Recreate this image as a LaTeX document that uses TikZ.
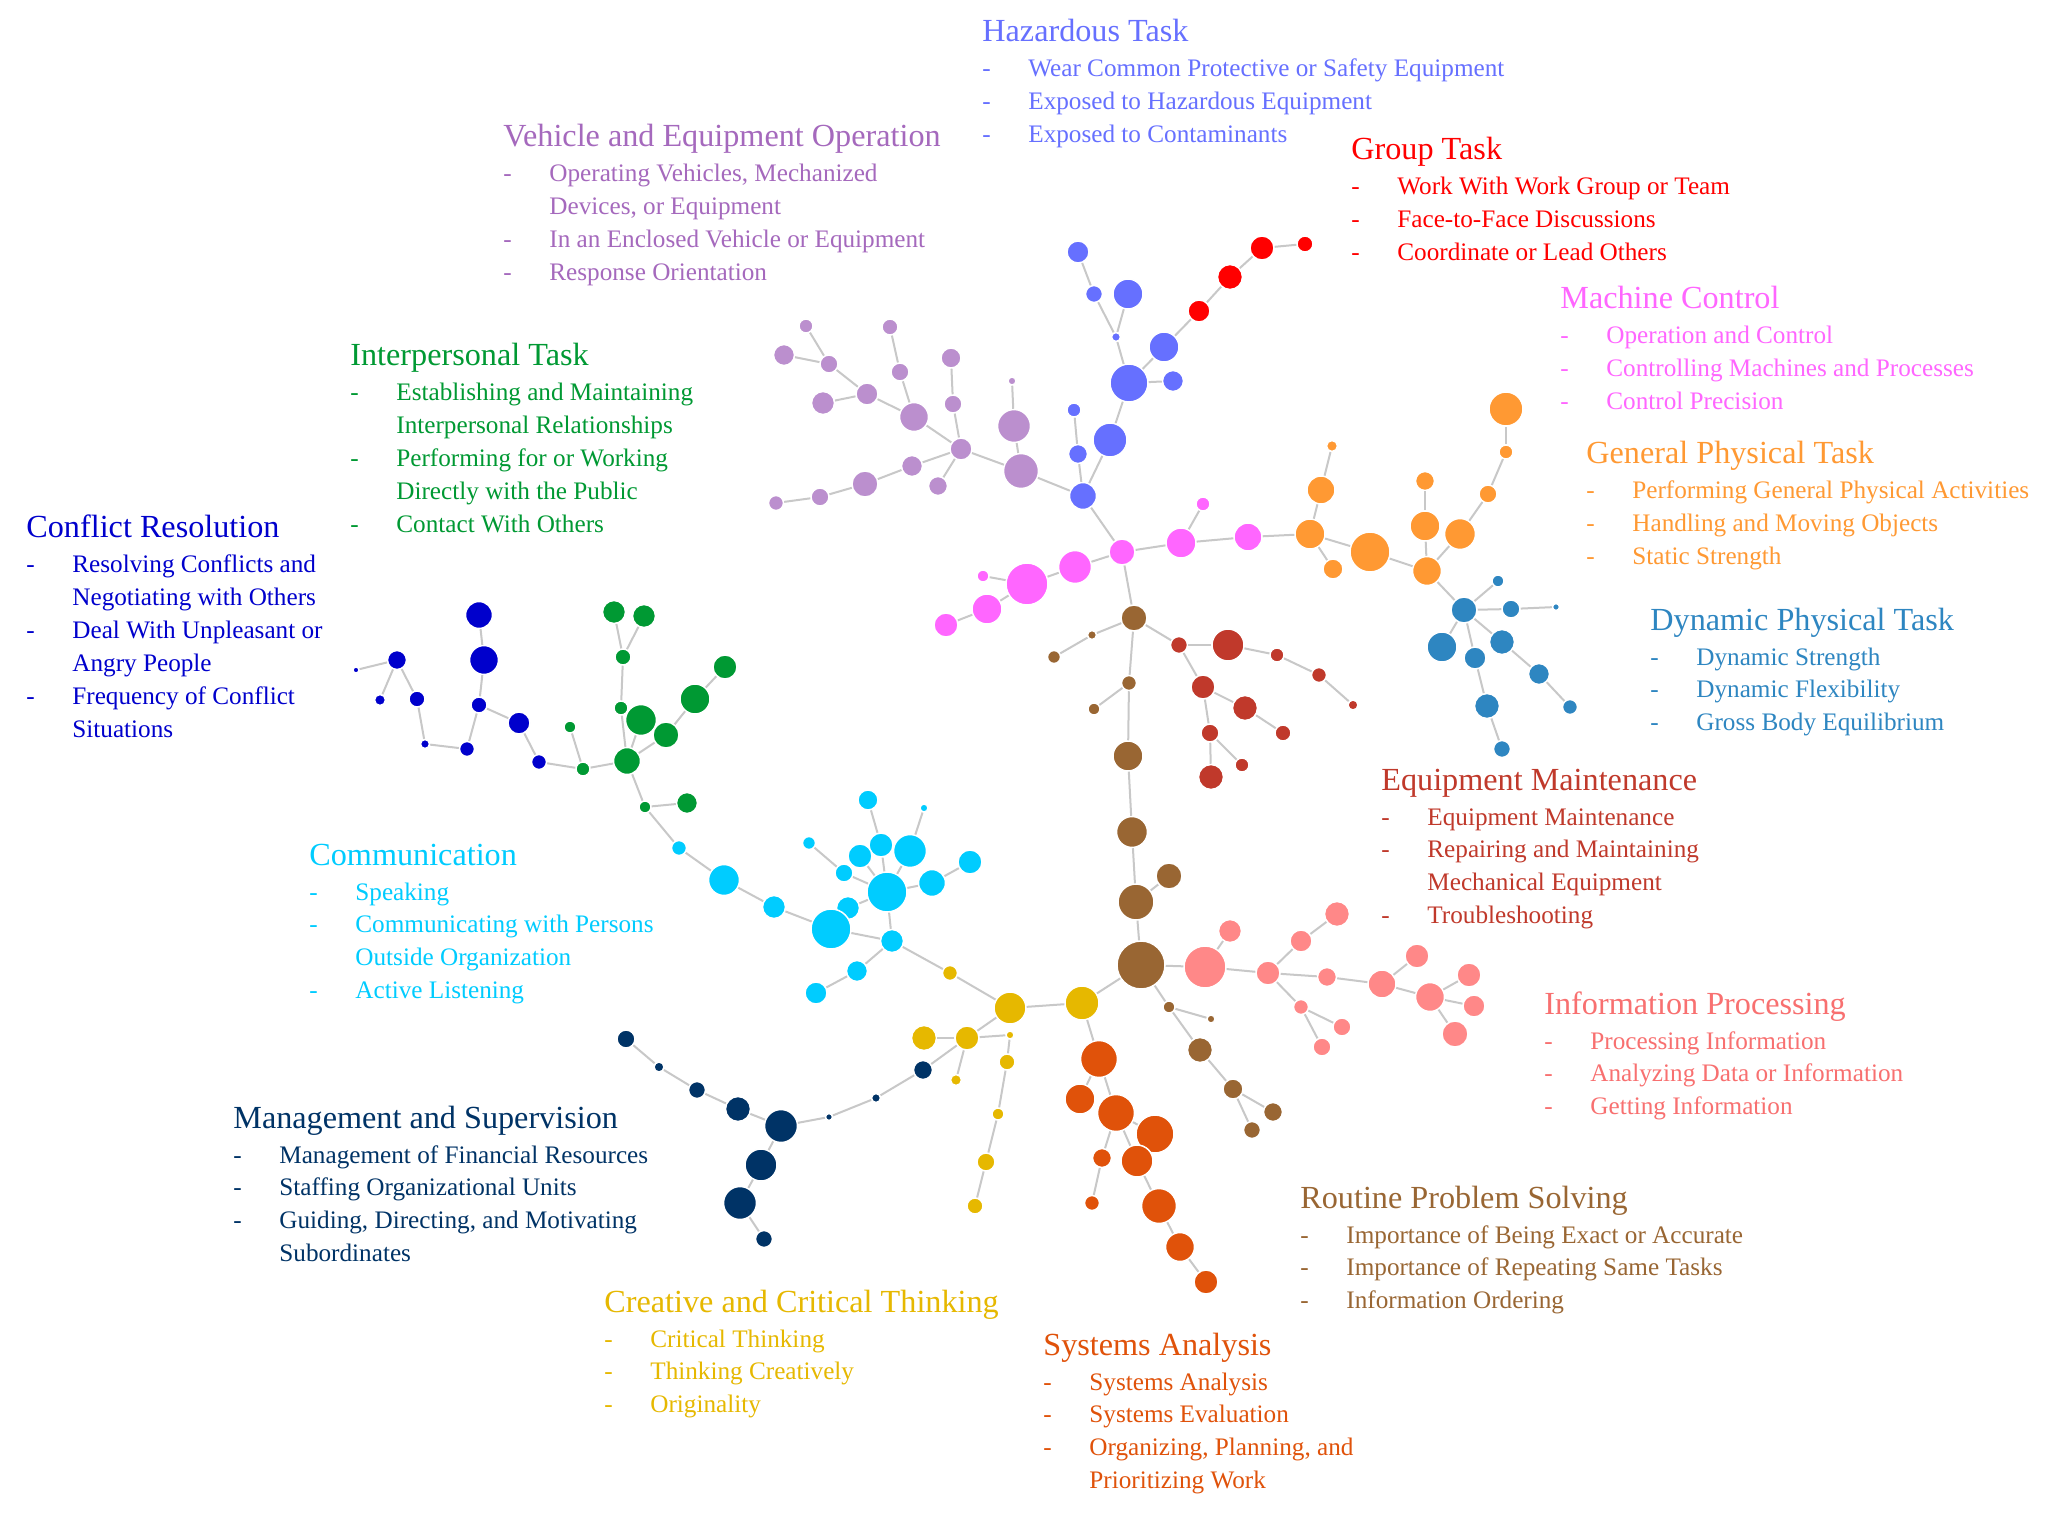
\documentclass[tikz,border=0pt]{standalone}
\usepackage{fontspec}
\setmainfont{Liberation Serif}
\definecolor{linkc}{RGB}{200,200,200}
\definecolor{hazardc}{RGB}{102,112,255}
\definecolor{vehiclec}{RGB}{187,143,206}
\definecolor{vehiclet}{RGB}{165,105,189}
\definecolor{groupc}{RGB}{255,0,0}
\definecolor{machinec}{RGB}{255,102,255}
\definecolor{genphysc}{RGB}{255,153,51}
\definecolor{dynphysc}{RGB}{46,134,193}
\definecolor{equipc}{RGB}{192,57,43}
\definecolor{infoc}{RGB}{255,136,136}
\definecolor{infot}{RGB}{248,112,112}
\definecolor{routinec}{RGB}{153,102,51}
\definecolor{systemsc}{RGB}{224,82,10}
\definecolor{creativec}{RGB}{230,184,0}
\definecolor{managec}{RGB}{0,51,102}
\definecolor{communc}{RGB}{0,204,255}
\definecolor{conflictc}{RGB}{0,0,204}
\definecolor{interpc}{RGB}{0,153,51}
\newcommand{\itemlist}[1]{\begin{tabular}[t]{@{}p{23pt}@{}l@{}}#1\end{tabular}}

\begin{document}
\begin{tikzpicture}[x=0.5pt,y=-0.5pt,
  dot/.style={circle,draw=white,line width=0.75pt,inner sep=0pt},
  sz/.style={minimum size=#1pt},
  every edge/.style={draw=linkc,line width=1pt},
  hzd/.style={dot,fill=hazardc}, veh/.style={dot,fill=vehiclec},
  grp/.style={dot,fill=groupc}, mch/.style={dot,fill=machinec},
  gph/.style={dot,fill=genphysc}, dph/.style={dot,fill=dynphysc},
  eqm/.style={dot,fill=equipc}, inf/.style={dot,fill=infoc},
  rps/.style={dot,fill=routinec}, sys/.style={dot,fill=systemsc},
  crt/.style={dot,fill=creativec}, mgt/.style={dot,fill=managec},
  com/.style={dot,fill=communc}, cfl/.style={dot,fill=conflictc},
  ipr/.style={dot,fill=interpc},
  ttl/.style={anchor=base west,inner sep=0pt,font=\fontsize{16.1}{19}\selectfont},
  lst/.style={anchor=base west,inner sep=0pt,yshift=-17.5pt,font=\fontsize{12.6}{16.4}\selectfont}]
\fill[white] (0,0) rectangle (2046,1519);
\useasboundingbox (0,0) rectangle (2046,1519);

% vehicle and equipment operation
\node[veh,sz=7] (v1) at (806,326) {};
\node[veh,sz=10.5] (v2) at (784,355) {};
\node[veh,sz=9] (v3) at (829,364) {};
\node[veh,sz=11] (v4) at (867,394) {};
\node[veh,sz=11.5] (v5) at (823,403) {};
\node[veh,sz=8] (v6) at (890,327) {};
\node[veh,sz=9] (v7) at (900,372) {};
\node[veh,sz=14.5] (v8) at (914,417) {};
\node[veh,sz=10] (v9) at (951,358) {};
\node[veh,sz=9] (v10) at (953,404) {};
\node[veh,sz=11] (v11) at (961,449) {};
\node[veh,sz=4] (v12) at (1012,381) {};
\node[veh,sz=16.5] (v13) at (1014,426) {};
\node[veh,sz=17.5] (v14) at (1021,471) {};
\node[veh,sz=10.5] (v15) at (912,466) {};
\node[veh,sz=9.5] (v16) at (938,486) {};
\node[veh,sz=13] (v17) at (865,484) {};
\node[veh,sz=9] (v18) at (820,497) {};
\node[veh,sz=7.5] (v19) at (776,503) {};

% hazardous task
\node[hzd,sz=11] (h1) at (1078,252) {};
\node[hzd,sz=8.5] (h2) at (1094,294) {};
\node[hzd,sz=15] (h3) at (1128,294) {};
\node[hzd,sz=4.5] (h4) at (1116,337) {};
\node[hzd,sz=19] (h5) at (1129,383) {};
\node[hzd,sz=10.5] (h6) at (1173,381) {};
\node[hzd,sz=15] (h7) at (1164,347) {};
\node[hzd,sz=7] (h8) at (1074,410) {};
\node[hzd,sz=9.5] (h9) at (1078,454) {};
\node[hzd,sz=17] (h10) at (1110,440) {};
\node[hzd,sz=13.5] (h11) at (1083,496) {};

% group task
\node[grp,sz=11] (g1) at (1199,311) {};
\node[grp,sz=12.5] (g2) at (1230,277) {};
\node[grp,sz=12] (g3) at (1262,248) {};
\node[grp,sz=8] (g4) at (1305,244) {};

% machine control
\node[mch,sz=13] (m1) at (1122,552) {};
\node[mch,sz=15] (m2) at (1181,543) {};
\node[mch,sz=7] (m3) at (1203,504) {};
\node[mch,sz=14] (m4) at (1248,537) {};
\node[mch,sz=16.5] (m5) at (1075,567) {};
\node[mch,sz=21] (m6) at (1027,584) {};
\node[mch,sz=6] (m7) at (983,576) {};
\node[mch,sz=15] (m8) at (987,609) {};
\node[mch,sz=12] (m9) at (946,625) {};

% general physical task
\node[gph,sz=15] (o1) at (1310,534) {};
\node[gph,sz=10] (o2) at (1333,569) {};
\node[gph,sz=14] (o3) at (1321,490) {};
\node[gph,sz=5.5] (o4) at (1332,446) {};
\node[gph,sz=20] (o5) at (1370,552) {};
\node[gph,sz=14.5] (o6) at (1427,571) {};
\node[gph,sz=15] (o7) at (1425,526) {};
\node[gph,sz=9.5] (o8) at (1425,481) {};
\node[gph,sz=15.5] (o9) at (1460,534) {};
\node[gph,sz=9] (o10) at (1488,494) {};
\node[gph,sz=7] (o11) at (1506,452) {};
\node[gph,sz=17] (o12) at (1506,409) {};

% dynamic physical task
\node[dph,sz=13] (d1) at (1464,610) {};
\node[dph,sz=6] (d2) at (1498,581) {};
\node[dph,sz=9] (d3) at (1511,609) {};
\node[dph,sz=3.5] (d4) at (1556,607) {};
\node[dph,sz=15] (d5) at (1442,647) {};
\node[dph,sz=11] (d6) at (1475,658) {};
\node[dph,sz=12.5] (d7) at (1502,642) {};
\node[dph,sz=10.5] (d8) at (1539,674) {};
\node[dph,sz=7.5] (d9) at (1570,707) {};
\node[dph,sz=12.5] (d10) at (1487,706) {};
\node[dph,sz=8.5] (d11) at (1502,749) {};

% routine problem solving
\node[rps,sz=13] (b1) at (1134,618) {};
\node[rps,sz=4.5] (b2) at (1092,635) {};
\node[rps,sz=6.5] (b3) at (1054,657) {};
\node[rps,sz=7.5] (b4) at (1129,683) {};
\node[rps,sz=6] (b5) at (1094,709) {};
\node[rps,sz=15] (b6) at (1128,756) {};
\node[rps,sz=15.5] (b7) at (1132,832) {};
\node[rps,sz=13] (b8) at (1169,876) {};
\node[rps,sz=18] (b9) at (1136,902) {};
\node[rps,sz=24] (b10) at (1141,965) {};
\node[rps,sz=6] (b11) at (1169,1007) {};
\node[rps,sz=4] (b12) at (1211,1019) {};
\node[rps,sz=12.5] (b13) at (1200,1050) {};
\node[rps,sz=10] (b14) at (1233,1089) {};
\node[rps,sz=9.5] (b15) at (1273,1112) {};
\node[rps,sz=8.5] (b16) at (1252,1130) {};

% equipment maintenance
\node[eqm,sz=8.5] (e1) at (1179,645) {};
\node[eqm,sz=16] (e2) at (1228,645) {};
\node[eqm,sz=7] (e3) at (1277,655) {};
\node[eqm,sz=7.5] (e4) at (1319,675) {};
\node[eqm,sz=5] (e5) at (1353,705) {};
\node[eqm,sz=12] (e6) at (1203,687) {};
\node[eqm,sz=12.5] (e7) at (1245,708) {};
\node[eqm,sz=8] (e8) at (1283,733) {};
\node[eqm,sz=9] (e9) at (1210,733) {};
\node[eqm,sz=7] (e10) at (1242,765) {};
\node[eqm,sz=12.5] (e11) at (1211,777) {};

% information processing
\node[inf,sz=21] (p1) at (1205,967) {};
\node[inf,sz=11.5] (p2) at (1230,931) {};
\node[inf,sz=12] (p3) at (1268,973) {};
\node[inf,sz=11] (p4) at (1301,941) {};
\node[inf,sz=12.5] (p5) at (1337,914) {};
\node[inf,sz=9.5] (p6) at (1327,977) {};
\node[inf,sz=14] (p7) at (1382,984) {};
\node[inf,sz=12] (p8) at (1417,956) {};
\node[inf,sz=14.5] (p9) at (1430,997) {};
\node[inf,sz=12] (p10) at (1469,975) {};
\node[inf,sz=11] (p11) at (1474,1006) {};
\node[inf,sz=13] (p12) at (1455,1034) {};
\node[inf,sz=7.5] (p13) at (1301,1007) {};
\node[inf,sz=9] (p14) at (1342,1027) {};
\node[inf,sz=9] (p15) at (1322,1047) {};

% systems analysis
\node[sys,sz=18.5] (s1) at (1099,1059) {};
\node[sys,sz=15] (s2) at (1080,1099) {};
\node[sys,sz=18.5] (s3) at (1116,1113) {};
\node[sys,sz=19] (s4) at (1155,1134) {};
\node[sys,sz=9.5] (s5) at (1102,1158) {};
\node[sys,sz=16] (s6) at (1137,1161) {};
\node[sys,sz=7.5] (s7) at (1092,1203) {};
\node[sys,sz=17.5] (s8) at (1159,1206) {};
\node[sys,sz=14.5] (s9) at (1180,1247) {};
\node[sys,sz=12] (s10) at (1206,1282) {};

% creative and critical thinking
\node[crt,sz=7.5] (y1) at (950,973) {};
\node[crt,sz=16] (y2) at (1010,1008) {};
\node[crt,sz=17] (y3) at (1082,1003) {};
\node[crt,sz=12] (y4) at (967,1038) {};
\node[crt,sz=12.5] (y5) at (924,1038) {};
\node[crt,sz=4] (y6) at (1010,1035) {};
\node[crt,sz=8] (y7) at (1007,1062) {};
\node[crt,sz=5.5] (y8) at (956,1080) {};
\node[crt,sz=6] (y9) at (998,1114) {};
\node[crt,sz=9] (y10) at (986,1162) {};
\node[crt,sz=8] (y11) at (975,1206) {};

% management and supervision
\node[mgt,sz=9] (n1) at (626,1039) {};
\node[mgt,sz=5] (n2) at (659,1067) {};
\node[mgt,sz=8.5] (n3) at (697,1090) {};
\node[mgt,sz=12.5] (n4) at (738,1109) {};
\node[mgt,sz=16.5] (n5) at (781,1126) {};
\node[mgt,sz=3.5] (n6) at (829,1117) {};
\node[mgt,sz=4.5] (n7) at (876,1098) {};
\node[mgt,sz=9.5] (n8) at (923,1070) {};
\node[mgt,sz=16] (n9) at (761,1165) {};
\node[mgt,sz=16.5] (n10) at (740,1203) {};
\node[mgt,sz=8.5] (n11) at (764,1239) {};

% communication
\node[com,sz=7.5] (k1) at (679,848) {};
\node[com,sz=15.5] (k2) at (724,880) {};
\node[com,sz=11.5] (k3) at (774,907) {};
\node[com,sz=11.5] (k9) at (848,908) {};
\node[com,sz=20] (k4) at (831,929) {};
\node[com,sz=11.5] (k5) at (892,941) {};
\node[com,sz=10.5] (k6) at (857,971) {};
\node[com,sz=11] (k7) at (816,993) {};
\node[com,sz=9] (k10) at (844,873) {};
\node[com,sz=6.5] (k11) at (809,843) {};
\node[com,sz=12] (k13) at (881,845) {};
\node[com,sz=12] (k12) at (860,856) {};
\node[com,sz=10] (k14) at (868,800) {};
\node[com,sz=16.5] (k15) at (910,851) {};
\node[com,sz=4] (k16) at (924,808) {};
\node[com,sz=13.5] (k17) at (932,883) {};
\node[com,sz=12] (k18) at (970,862) {};
\node[com,sz=20] (k8) at (887,892) {};

% interpersonal task
\node[ipr,sz=11.5] (i1) at (614,612) {};
\node[ipr,sz=11.5] (i2) at (644,616) {};
\node[ipr,sz=8] (i3) at (623,657) {};
\node[ipr,sz=7] (i4) at (621,708) {};
\node[ipr,sz=15.5] (i5) at (641,720) {};
\node[ipr,sz=13] (i6) at (666,735) {};
\node[ipr,sz=15] (i7) at (695,699) {};
\node[ipr,sz=12] (i8) at (725,667) {};
\node[ipr,sz=6] (i9) at (570,727) {};
\node[ipr,sz=7] (i10) at (583,769) {};
\node[ipr,sz=13.5] (i11) at (627,761) {};
\node[ipr,sz=6] (i12) at (645,807) {};
\node[ipr,sz=10.5] (i13) at (687,803) {};

% conflict resolution
\node[cfl,sz=13.5] (c1) at (479,615) {};
\node[cfl,sz=14.5] (c2) at (484,660) {};
\node[cfl,sz=8] (c3) at (479,705) {};
\node[cfl,sz=9.5] (c4) at (397,660) {};
\node[cfl,sz=3] (c5) at (356,670) {};
\node[cfl,sz=5.5] (c6) at (380,700) {};
\node[cfl,sz=8] (c7) at (417,699) {};
\node[cfl,sz=4.5] (c8) at (425,744) {};
\node[cfl,sz=7.5] (c9) at (467,749) {};
\node[cfl,sz=11] (c10) at (519,723) {};
\node[cfl,sz=7.5] (c11) at (539,762) {};

% links
\path (v1) edge (v3) (v2) edge (v3) (v3) edge (v4) (v5) edge (v4)
      (v4) edge (v8) (v6) edge (v7) (v7) edge (v8) (v8) edge (v11)
      (v9) edge (v10) (v10) edge (v11) (v11) edge (v14) edge (v15) edge (v16)
      (v15) edge (v17) (v17) edge (v18) (v18) edge (v19)
      (v12) edge (v13) (v13) edge (v14) (v14) edge (h11);
\path (h1) edge (h2) (h2) edge (h4) (h3) edge (h4) (h4) edge (h5)
      (h5) edge (h6) edge (h7) edge (h10) (h10) edge (h11)
      (h8) edge (h9) (h9) edge (h11) (h11) edge (m1)
      (h7) edge (g1) (g1) edge (g2) (g2) edge (g3) (g3) edge (g4);
\path (m1) edge (m2) edge (m5) edge (b1) (m2) edge (m3) edge (m4)
      (m4) edge (o1) (m5) edge (m6) (m6) edge (m7) edge (m8) (m8) edge (m9);
\path (o1) edge (o2) edge (o3) edge (o5) (o3) edge (o4) (o5) edge (o6)
      (o6) edge (o7) edge (o9) edge (d1) (o7) edge (o8)
      (o9) edge (o10) (o10) edge (o11) (o11) edge (o12);
\path (d1) edge (d2) edge (d3) edge (d5) edge (d6) edge (d7)
      (d3) edge (d4) (d6) edge (d10) (d10) edge (d11) (d7) edge (d8) (d8) edge (d9);
\path (b1) edge (b2) edge (b4) edge (e1) (b2) edge (b3) (b4) edge (b5) edge (b6)
      (b6) edge (b7) (b7) edge (b9) (b8) edge (b9) (b9) edge (b10)
      (b10) edge (b11) edge (p1) edge (y3) (b11) edge (b12) edge (b13)
      (b13) edge (b14) (b14) edge (b15) edge (b16);
\path (e1) edge (e2) edge (e6) (e2) edge (e3) (e3) edge (e4) (e4) edge (e5)
      (e6) edge (e7) edge (e9) (e7) edge (e8) (e9) edge (e10) edge (e11);
\path (p1) edge (p2) edge (p3) (p3) edge (p4) edge (p6) edge (p13) (p4) edge (p5)
      (p6) edge (p7) (p7) edge (p8) edge (p9) (p9) edge (p10) edge (p11) edge (p12)
      (p13) edge (p14) edge (p15);
\path (y3) edge (s1) (s1) edge (s2) edge (s3) (s3) edge (s4) edge (s5) edge (s6)
      (s5) edge (s7) (s6) edge (s8) (s8) edge (s9) (s9) edge (s10);
\path (k5) edge (y1) (y1) edge (y2) (y2) edge (y3) edge (y4)
      (y4) edge (y5) edge (y6) edge (y8) edge (n8) (y6) edge (y7)
      (y7) edge (y9) (y9) edge (y10) (y10) edge (y11);
\path (n1) edge (n2) (n2) edge (n3) (n3) edge (n4) (n4) edge (n5)
      (n5) edge (n6) edge (n9) (n6) edge (n7) (n7) edge (n8)
      (n9) edge (n10) (n10) edge (n11);
\path (i12) edge (k1) (k1) edge (k2) (k2) edge (k3) (k3) edge (k4) (k4) edge (k5)
      (k5) edge (k6) edge (k8) (k6) edge (k7)
      (k8) edge (k9) edge (k10) edge (k12) edge (k13) edge (k15) edge (k17)
      (k10) edge (k11) (k13) edge (k14) (k15) edge (k16) (k17) edge (k18);
\path (i1) edge (i3) (i2) edge (i3) (i3) edge (i4) (i4) edge (i11) (i5) edge (i11)
      (i8) edge (i7) (i7) edge (i6) (i6) edge (i11) (i9) edge (i10) (i10) edge (i11)
      (i11) edge (i12) (i12) edge (i13);
\path (c1) edge (c2) (c2) edge (c3) (c4) edge (c5) edge (c6) edge (c7)
      (c7) edge (c8) (c8) edge (c9) (c9) edge (c3) (c3) edge (c10)
      (c10) edge (c11) (c11) edge (i10);

% legend texts
\node[ttl,text=hazardc] (hzdt) at (982,42) {Hazardous Task};
\node[lst,text=hazardc] (hzdl) at (hzdt.base west) {\itemlist{-&Wear Common Protective or Safety Equipment\\
  -&Exposed to Hazardous Equipment\\ -&Exposed to Contaminants}};
\node[ttl,text=vehiclet] (veht) at (503,147) {Vehicle and Equipment Operation};
\node[lst,text=vehiclet] (vehl) at (veht.base west) {\itemlist{-&Operating Vehicles, Mechanized\\
  &Devices, or Equipment\\ -&In an Enclosed Vehicle or Equipment\\ -&Response Orientation}};
\node[ttl,text=groupc] (grpt) at (1351,160) {Group Task};
\node[lst,text=groupc] (grpl) at (grpt.base west) {\itemlist{-&Work With Work Group or Team\\
  -&Face-to-Face Discussions\\ -&Coordinate or Lead Others}};
\node[ttl,text=machinec] (mcht) at (1560,309) {Machine Control};
\node[lst,text=machinec] (mchl) at (mcht.base west) {\itemlist{-&Operation and Control\\
  -&Controlling Machines and Processes\\ -&Control Precision}};
\node[ttl,text=genphysc] (gpht) at (1586,464) {General Physical Task};
\node[lst,text=genphysc] (gphl) at (gpht.base west) {\itemlist{-&Performing General Physical Activities\\
  -&Handling and Moving Objects\\ -&Static Strength}};
\node[ttl,text=dynphysc] (dpht) at (1650,630) {Dynamic Physical Task};
\node[lst,text=dynphysc] (dphl) at (dpht.base west) {\itemlist{-&Dynamic Strength\\
  -&Dynamic Flexibility\\ -&Gross Body Equilibrium}};
\node[ttl,text=equipc] (eqmt) at (1381,790) {Equipment Maintenance};
\node[lst,text=equipc] (eqml) at (eqmt.base west) {\itemlist{-&Equipment Maintenance\\
  -&Repairing and Maintaining\\ &Mechanical Equipment\\ -&Troubleshooting}};
\node[ttl,text=infot] (inft) at (1544,1014) {Information Processing};
\node[lst,text=infot] (infl) at (inft.base west) {\itemlist{-&Processing Information\\
  -&Analyzing Data or Information\\ -&Getting Information}};
\node[ttl,text=routinec] (rpst) at (1300,1208) {Routine Problem Solving};
\node[lst,text=routinec] (rpsl) at (rpst.base west) {\itemlist{-&Importance of Being Exact or Accurate\\
  -&Importance of Repeating Same Tasks\\ -&Information Ordering}};
\node[ttl,text=systemsc] (syst) at (1043,1355) {Systems Analysis};
\node[lst,text=systemsc] (sysl) at (syst.base west) {\itemlist{-&Systems Analysis\\
  -&Systems Evaluation\\ -&Organizing, Planning, and\\ &Prioritizing Work}};
\node[ttl,text=creativec] (crtt) at (604,1312) {Creative and Critical Thinking};
\node[lst,text=creativec] (crtl) at (crtt.base west) {\itemlist{-&Critical Thinking\\
  -&Thinking Creatively\\ -&Originality}};
\node[ttl,text=managec] (mgtt) at (233,1128) {Management and Supervision};
\node[lst,text=managec] (mgtl) at (mgtt.base west) {\itemlist{-&Management of Financial Resources\\
  -&Staffing Organizational Units\\ -&Guiding, Directing, and Motivating\\ &Subordinates}};
\node[ttl,text=communc] (comt) at (309,865) {Communication};
\node[lst,text=communc] (coml) at (comt.base west) {\itemlist{-&Speaking\\
  -&Communicating with Persons\\ &Outside Organization\\ -&Active Listening}};
\node[ttl,text=conflictc] (cflt) at (26,538) {Conflict Resolution};
\node[lst,text=conflictc] (cfll) at (cflt.base west) {\itemlist{-&Resolving Conflicts and\\
  &Negotiating with Others\\ -&Deal With Unpleasant or\\ &Angry People\\ -&Frequency of Conflict\\ &Situations}};
\node[ttl,text=interpc] (iprt) at (350,366) {Interpersonal Task};
\node[lst,text=interpc] (iprl) at (iprt.base west) {\itemlist{-&Establishing and Maintaining\\
  &Interpersonal Relationships\\ -&Performing for or Working\\ &Directly with the Public\\ -&Contact With Others}};
\end{tikzpicture}
\end{document}
